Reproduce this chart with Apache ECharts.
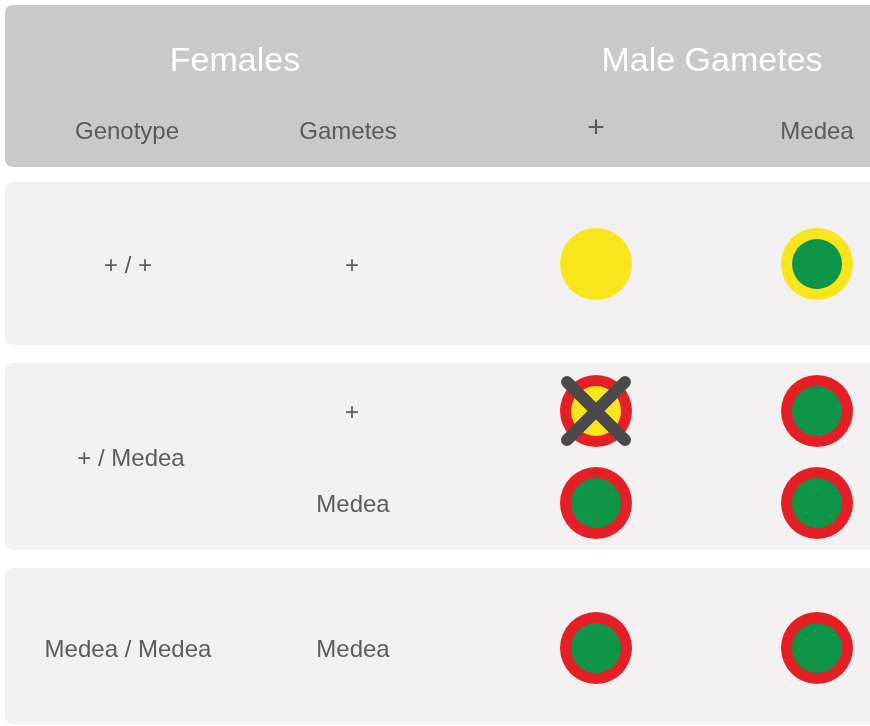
<!DOCTYPE html>
<html>
<head>
<meta charset="utf-8">
<script src="https://cdn.jsdelivr.net/npm/echarts@6/dist/echarts.min.js"></script>
<style>
  html, body { margin: 0; padding: 0; background: #fff; }
  #main { width: 870px; height: 726px; }
</style>
</head>
<body>
<div id="main"></div>
<script>
// --- data ---
const femaleHeader = 'Females';
const maleHeader = 'Male Gametes';
const columnLabels = ['Genotype', 'Gametes'];
const maleGametes = ['+', 'Medea'];
const genotypes = ['+ / +', '+ / Medea', 'Medea / Medea'];
const femaleGametes = ['+', '+', 'Medea', 'Medea'];
// offspring per female gamete (rows) x male gamete (columns)
const outcomes = [
  ['wild', 'carrier'],
  ['killed', 'rescued'],
  ['rescued', 'rescued'],
  ['rescued', 'rescued']
];

// --- layout ---
const colX = [128, 350, 596, 817];
const gameteY = [264, 411, 503, 648];
const genotypeY = [264, 457, 648];
const panels = [[5, 167], [182, 345], [363, 550], [568, 724]];

const YELLOW = '#f8e51c', GREEN = '#0d9447', RED = '#e41f26';
const outcomeStyle = {
  wild:    { outer: YELLOW, inner: null },
  carrier: { outer: YELLOW, inner: GREEN },
  killed:  { outer: RED, inner: YELLOW, cross: true },
  rescued: { outer: RED, inner: GREEN }
};

const outerData = [], innerData = [], crossData = [];
outcomes.forEach(function (row, r) {
  row.forEach(function (o, c) {
    const s = outcomeStyle[o];
    const x = colX[2 + c], y = gameteY[r];
    outerData.push({ value: [x, y], itemStyle: { color: s.outer } });
    if (s.inner) innerData.push({ value: [x, y], itemStyle: { color: s.inner } });
    if (s.cross) crossData.push([x, y]);
  });
});

function textItem(x, y, text, size, color) {
  return {
    value: [x, y],
    label: { show: true, formatter: text, fontSize: size, color: color }
  };
}

const labelData = [
  textItem(235, 62, femaleHeader, 34, '#ffffff'),
  textItem(712, 62, maleHeader, 34, '#ffffff'),
  textItem(127, 132, columnLabels[0], 24, '#5a5a5a'),
  textItem(348, 132, columnLabels[1], 24, '#5a5a5a'),
  textItem(colX[2], 129, maleGametes[0], 30, '#5a5a5a'),
  textItem(colX[3], 132, maleGametes[1], 24, '#5a5a5a')
];
genotypes.forEach(function (g, i) {
  labelData.push(textItem(i === 1 ? 131 : 128, genotypeY[i] + 2, g, 24, '#5c5c5c'));
});
femaleGametes.forEach(function (g, i) {
  labelData.push(textItem(g === '+' ? 352 : 353, gameteY[i] + 2, g, 24, '#5c5c5c'));
});

const graphics = panels.map(function (p, i) {
  return {
    type: 'rect',
    z: -10,
    shape: { x: 5, y: p[0], width: 880, height: p[1] - p[0], r: 8 },
    style: { fill: i === 0 ? '#c9c9c9' : '#f2f0f0' }
  };
});

const chart = echarts.init(document.getElementById('main'));
chart.setOption({
  backgroundColor: '#ffffff',
  animation: false,
  textStyle: { fontFamily: 'Liberation Sans, Arial, sans-serif' },
  graphic: graphics,
  grid: { left: 0, right: 0, top: 0, bottom: 0 },
  xAxis: { type: 'value', min: 0, max: 870, show: false },
  yAxis: { type: 'value', min: 0, max: 726, inverse: true, show: false },
  series: [
    {
      type: 'scatter',
      symbolSize: 72,
      itemStyle: { opacity: 1 },
      data: outerData,
      silent: true
    },
    {
      type: 'scatter',
      symbolSize: 50,
      itemStyle: { opacity: 1 },
      data: innerData,
      silent: true,
      z: 3
    },
    {
      type: 'custom',
      z: 4,
      silent: true,
      data: crossData,
      renderItem: function (params, api) {
        const p = api.coord([api.value(0), api.value(1)]);
        const d = 29;
        const st = { stroke: '#4a4a4a', lineWidth: 12, lineCap: 'round' };
        return {
          type: 'group',
          children: [
            { type: 'line', shape: { x1: p[0] - d, y1: p[1] - d, x2: p[0] + d, y2: p[1] + d }, style: st },
            { type: 'line', shape: { x1: p[0] + d, y1: p[1] - d, x2: p[0] - d, y2: p[1] + d }, style: st }
          ]
        };
      }
    },
    {
      type: 'scatter',
      symbolSize: 1,
      itemStyle: { color: 'rgba(0,0,0,0)', opacity: 1 },
      silent: true,
      z: 5,
      label: { show: true, position: 'inside', align: 'center', verticalAlign: 'middle' },
      data: labelData
    }
  ]
});
</script>
</body>
</html>
